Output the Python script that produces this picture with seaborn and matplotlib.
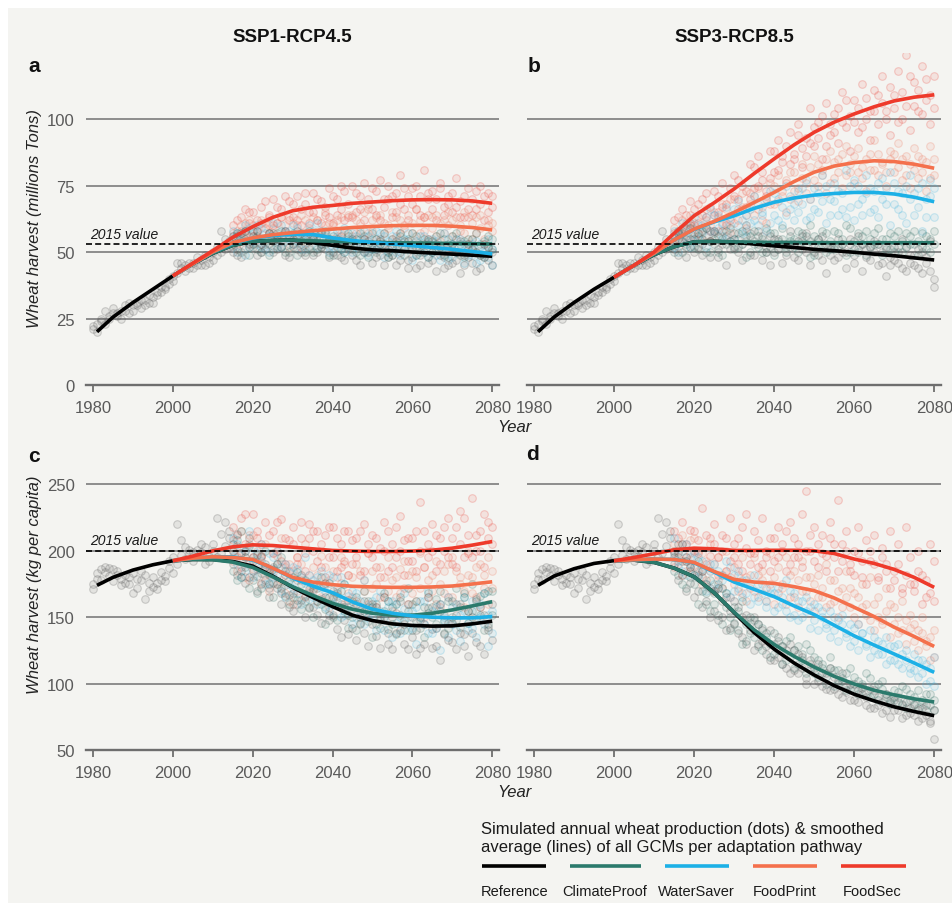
import matplotlib
matplotlib.use("Agg")
import matplotlib.pyplot as plt
import matplotlib.colors as mcolors
from matplotlib.lines import Line2D
from matplotlib.patches import Rectangle
import pandas as pd
import seaborn as sns

sns.set_theme(style="white")
plt.rcParams['font.family'] = ['Liberation Sans', 'DejaVu Sans']

# ---------------------------------------------------------------- data
PATHWAYS = ["Reference", "ClimateProof", "WaterSaver", "FoodPrint", "FoodSec"]
LINE_COLORS = ["#000000", "#2b7a6c", "#1cb0e6", "#f4704c", "#ee3a2b"]
DOT_COLORS = ["#505050", "#2d6d63", "#4cb8e2", "#f07a62", "#ec4a40"]

REF_LINE_YEARS = [1981, 1985, 1990, 1995, 2000, 2005, 2010, 2015, 2020, 2025, 2030,
                  2035, 2040, 2045, 2050, 2055, 2060, 2065, 2070, 2075, 2080]
PATH_LINE_YEARS = [2000, 2005, 2010, 2015, 2020, 2025, 2030, 2035, 2040, 2045, 2050,
                   2055, 2060, 2065, 2070, 2075, 2080]
HIST_YEARS = list(range(1980, 2015))
FUT_YEARS = list(range(2015, 2081))

# smoothed averages (lines)
a_ref_line = [20, 25.5, 31, 36, 41, 45.5, 49.5, 52.5, 54, 54.3, 54.5, 53.5, 52.5, 51.5, 50.8, 50.5, 50, 49.6, 49.2, 48.8, 48.4]
a_cp_line = [41, 45.5, 49.5, 52.5, 54, 54.3, 54.5, 54.2, 54, 53.8, 53.6, 53.5, 53.4, 53.3, 53.2, 53.1, 53]
a_ws_line = [41, 45.5, 50, 53.2, 55.2, 56.2, 56.6, 56.6, 55.3, 54.3, 53.6, 53, 52.4, 51.7, 51, 50.2, 49.3]
a_fp_line = [41, 45.5, 50, 53.5, 55.3, 56.5, 57.3, 58, 58.6, 59.2, 59.6, 59.9, 60, 60, 59.7, 59.2, 58.3]
a_fs_line = [41, 45.8, 50.5, 55.5, 59.5, 63, 65.5, 66.8, 67.5, 68.3, 68.8, 69.3, 69.6, 69.7, 69.6, 69.2, 68.3]

b_ref_line = [20, 25.5, 31, 36, 40.5, 45, 49, 52, 53.8, 54, 53.7, 53, 52.3, 51.7, 51, 50.5, 49.9, 49.2, 48.6, 47.8, 47]
b_cp_line = [40.5, 45, 49, 52, 53.8, 54, 53.8, 53.7, 53.6, 53.6, 53.5, 53.5, 53.5, 53.5, 53.5, 53.5, 53.5]
b_ws_line = [40.5, 45, 49.5, 54.5, 58.5, 61.3, 63.6, 66.4, 68.7, 70.3, 71.4, 72, 72.4, 72.4, 71.8, 70.6, 68.9]
b_fp_line = [40.5, 45, 49.5, 54.5, 58.6, 61.5, 64.9, 68.6, 72.4, 76.5, 80, 82.3, 83.6, 84.3, 84, 83, 81.5]
b_fs_line = [40.5, 45, 50, 57, 63.6, 68.5, 73.7, 79.5, 85, 90.3, 95, 98.8, 101.9, 104.6, 106.8, 108.2, 109.1]

c_ref_line = [174, 180, 185.5, 189.5, 192.5, 193.5, 193.5, 192, 188.5, 181, 172.5, 165, 158, 151.5, 147.5, 145, 143.8, 143.3, 143.5, 145, 147]
c_cp_line = [192.5, 193.5, 193.3, 191.5, 187.5, 180.5, 173, 166.5, 160.5, 156, 153, 151.5, 151.5, 153, 155.5, 158.5, 161.7]
c_ws_line = [192.5, 194.5, 195.5, 195.5, 193, 187, 179.5, 173.5, 168.5, 161.5, 156, 153, 151, 150, 149.5, 149.5, 150.5]
c_fp_line = [192.5, 194.5, 195.5, 195, 193.5, 187, 180, 176.5, 174.5, 173.3, 172.8, 172.5, 172.5, 172.8, 173.5, 175, 176.7]
c_fs_line = [192.5, 196, 200, 203, 204.5, 204, 202.8, 201.5, 200.3, 199.8, 199.5, 199.5, 199.8, 200.5, 202, 204.3, 207]

d_ref_line = [174, 181, 186.5, 190.5, 192.6, 193, 191.3, 187, 180.5, 168.5, 153.5, 138.5, 126, 115.5, 106.5, 98.5, 92, 87, 82.5, 79, 75.8]
d_cp_line = [192.6, 193, 191.3, 187, 180.5, 168.5, 153.8, 140.5, 129.5, 120.5, 112.5, 105.5, 99.7, 95, 91.5, 88.5, 86.2]
d_ws_line = [192.5, 193.3, 193.8, 193.5, 191, 184, 176.5, 171, 165.5, 158.5, 152, 144, 136, 129, 122.3, 115.5, 108.5]
d_fp_line = [192.5, 193.3, 193.8, 193.5, 191.3, 184.5, 178.5, 176.5, 175.5, 173, 170, 164.5, 157.5, 150.5, 142.5, 135.5, 128]
d_fs_line = [192.5, 195, 197.8, 200.8, 202, 201.5, 200.3, 200.3, 200.4, 200.4, 200, 198, 193.8, 190.5, 186, 180, 172.5]

# historical simulations (dots, 1980-2014)
hist_top_1 = [21, 23, 24, 28, 26, 27, 26, 28, 30, 27, 30, 31, 29, 32, 31, 33, 35, 35, 37, 38,
              41, 46, 44, 45, 44, 46, 45, 47, 45, 48, 50, 49, 58, 51, 54]
hist_top_2 = [22, 20, 25, 23, 25, 29, 27, 25, 28, 31, 28, 30, 32, 30, 34, 31, 34, 37, 36, 40,
              39, 42, 46, 43, 46, 44, 48, 45, 49, 46, 47, 52, 50, 55, 52]
hist_bot_1 = [171, 179, 186, 184, 187, 186, 182, 179, 176, 180, 168, 179, 185, 164, 176, 173, 171, 178, 181, 192,
              183, 220, 208, 203, 198, 199, 201, 205, 190, 196, 200, 225, 198, 222, 210]
hist_bot_2 = [175, 183, 178, 188, 181, 177, 185, 174, 182, 175, 183, 172, 178, 182, 170, 180, 176, 184, 177, 187,
              195, 190, 197, 194, 201, 192, 196, 199, 203, 192, 205, 195, 213, 204, 215]

# simulated annual values per pathway, two GCM runs each (2015-2080)
a_ref_dots1 = [55, 49, 57, 51, 54, 52, 58, 50, 55, 53, 57, 51, 54, 49, 56, 53, 58, 50, 55, 52, 49, 56, 53, 51, 55,
               50, 54, 48, 53, 51, 55, 47, 52, 50, 54, 46, 51, 49, 53, 48, 52, 45, 50, 54, 47, 51, 44, 49, 53, 46,
               50, 43, 52, 48, 45, 51, 47, 42, 49, 53, 46, 50, 44, 48, 52, 45]
a_ref_dots2 = [50, 56, 48, 58, 53, 56, 49, 53, 51, 57, 50, 55, 52, 58, 48, 55, 51, 57, 49, 54, 56, 50, 52, 57, 48,
               54, 49, 56, 47, 52, 49, 53, 45, 55, 50, 53, 48, 55, 45, 51, 49, 54, 47, 51, 44, 48, 52, 45, 50, 55,
               47, 53, 49, 44, 51, 46, 50, 54, 45, 48, 51, 43, 49, 53, 47, 50]
a_cp_dots1 = [53, 57, 50, 55, 52, 58, 51, 55, 53, 49, 54, 57, 52, 56, 50, 52, 56, 54, 50, 58, 55, 51, 57, 53, 49,
              56, 52, 54, 50, 57, 51, 55, 49, 56, 53, 57, 50, 54, 52, 48, 55, 51, 57, 49, 54, 52, 56, 50, 55, 48,
              54, 51, 57, 49, 53, 56, 50, 53, 48, 55, 51, 57, 49, 54, 52, 55]
a_cp_dots2 = [56, 51, 54, 58, 49, 53, 56, 50, 54, 57, 51, 55, 58, 50, 53, 57, 49, 53, 56, 51, 50, 54, 52, 58, 55,
              49, 55, 51, 53, 56, 54, 50, 57, 52, 48, 51, 55, 53, 57, 50, 49, 53, 56, 51, 55, 57, 49, 53, 51, 54,
              50, 56, 52, 55, 48, 53, 57, 49, 54, 51, 55, 50, 53, 48, 56, 51]
a_ws_dots1 = [58, 50, 55, 60, 52, 57, 53, 59, 51, 56, 61, 54, 52, 58, 55, 53, 59, 56, 51, 60, 55, 52, 58, 54, 50,
              57, 53, 51, 59, 55, 50, 56, 53, 58, 49, 55, 51, 57, 48, 54, 52, 58, 49, 55, 51, 47, 54, 56, 50, 53,
              55, 49, 52, 57, 47, 53, 50, 55, 46, 52, 49, 54, 47, 51, 55, 45]
a_ws_dots2 = [52, 57, 54, 49, 59, 54, 60, 52, 57, 50, 56, 52, 60, 54, 58, 60, 54, 51, 57, 55, 58, 61, 53, 56, 52,
              52, 58, 55, 50, 54, 57, 52, 55, 50, 56, 51, 58, 53, 56, 50, 56, 50, 54, 52, 57, 53, 49, 51, 56, 48,
              50, 54, 47, 52, 55, 48, 55, 51, 53, 49, 53, 46, 52, 50, 48, 51]
a_fp_dots1 = [57, 51, 60, 54, 62, 53, 58, 62, 55, 60, 59, 54, 63, 57, 52, 61, 56, 64, 53, 59, 55, 62, 58, 65, 54,
              60, 56, 63, 58, 53, 64, 57, 61, 55, 66, 58, 63, 54, 61, 59, 65, 56, 62, 59, 54, 61, 66, 57, 63, 55,
              59, 64, 54, 62, 60, 56, 63, 58, 65, 53, 61, 57, 64, 55, 60, 58]
a_fp_dots2 = [52, 58, 55, 61, 56, 60, 55, 53, 61, 57, 54, 61, 56, 60, 63, 55, 60, 52, 62, 57, 63, 57, 53, 60, 61,
              55, 62, 57, 54, 64, 56, 62, 58, 65, 57, 62, 55, 64, 57, 60, 55, 63, 57, 60, 64, 57, 54, 62, 58, 64,
              63, 56, 61, 57, 65, 62, 55, 60, 57, 63, 55, 63, 59, 53, 62, 61]
a_fs_dots1 = [60, 53, 63, 57, 65, 56, 62, 67, 59, 64, 70, 61, 66, 58, 69, 63, 71, 60, 68, 65, 72, 62, 69, 64, 74,
              61, 70, 66, 73, 63, 75, 65, 71, 62, 68, 74, 64, 77, 67, 70, 63, 72, 79, 66, 71, 68, 75, 64, 81, 70,
              73, 62, 76, 67, 71, 65, 78, 69, 63, 74, 70, 66, 75, 62, 72, 67]
a_fs_dots2 = [56, 62, 58, 66, 61, 65, 58, 61, 69, 63, 60, 67, 63, 71, 62, 68, 62, 66, 72, 61, 65, 70, 61, 67, 63,
              71, 64, 75, 62, 68, 63, 72, 66, 76, 70, 66, 73, 62, 70, 75, 71, 65, 68, 74, 62, 74, 66, 71, 63, 72,
              66, 70, 74, 64, 68, 72, 67, 63, 71, 66, 64, 73, 68, 71, 65, 71]

b_ref_dots1 = [56, 49, 58, 52, 55, 50, 57, 53, 59, 48, 55, 51, 58, 45, 54, 57, 50, 53, 60, 49, 54, 58, 47, 52, 56,
               50, 55, 46, 53, 58, 48, 54, 51, 57, 45, 53, 49, 56, 42, 52, 47, 55, 50, 44, 53, 49, 56, 43, 51, 47,
               54, 45, 50, 41, 48, 52, 46, 55, 43, 49, 45, 51, 42, 48, 54, 40]
b_ref_dots2 = [51, 57, 54, 48, 60, 55, 52, 49, 56, 54, 58, 48, 53, 56, 51, 52, 55, 47, 54, 57, 49, 53, 56, 50, 45,
               55, 51, 53, 49, 52, 53, 47, 56, 50, 54, 50, 55, 47, 53, 49, 52, 48, 53, 50, 55, 46, 51, 53, 48, 52,
               50, 53, 46, 52, 45, 47, 50, 44, 52, 46, 49, 44, 50, 46, 43, 37]
b_cp_dots1 = [54, 58, 50, 56, 52, 57, 51, 55, 59, 50, 53, 56, 49, 58, 54, 51, 57, 53, 48, 56, 58, 52, 55, 50, 57,
              49, 54, 59, 52, 56, 55, 50, 57, 53, 48, 56, 52, 58, 50, 54, 51, 57, 53, 49, 59, 54, 50, 56, 58, 52,
              57, 53, 49, 55, 51, 50, 58, 54, 52, 56, 53, 49, 57, 51, 55, 58]
b_cp_dots2 = [50, 55, 57, 53, 59, 52, 56, 58, 50, 54, 57, 50, 55, 53, 59, 55, 52, 58, 56, 50, 53, 56, 50, 59, 52,
              57, 51, 55, 50, 54, 52, 58, 54, 56, 60, 49, 55, 53, 57, 51, 58, 52, 55, 60, 50, 51, 57, 53, 49, 55,
              53, 59, 55, 51, 57, 56, 52, 50, 57, 53, 58, 54, 52, 56, 50, 53]
b_ws_dots1 = [58, 50, 61, 55, 52, 63, 55, 60, 52, 66, 58, 64, 56, 67, 60, 55, 69, 62, 58, 66, 71, 60, 65, 58, 73,
              64, 70, 60, 75, 66, 62, 73, 68, 77, 63, 74, 65, 79, 61, 70, 76, 64, 72, 81, 67, 62, 75, 70, 79, 65,
              73, 63, 78, 68, 60, 76, 66, 72, 61, 79, 64, 74, 58, 70, 77, 63]
b_ws_dots2 = [52, 57, 54, 60, 57, 54, 60, 57, 63, 58, 64, 59, 61, 55, 63, 66, 60, 57, 64, 61, 62, 68, 64, 70, 61,
              72, 62, 67, 64, 71, 68, 65, 74, 62, 70, 66, 72, 69, 75, 64, 69, 73, 66, 63, 75, 77, 68, 64, 72, 74,
              66, 76, 70, 74, 80, 68, 73, 64, 75, 70, 72, 67, 76, 63, 71, 74]
b_fp_dots1 = [59, 52, 62, 55, 64, 56, 63, 59, 66, 54, 65, 58, 68, 61, 57, 70, 62, 67, 59, 72, 64, 74, 67, 61, 76,
              68, 79, 71, 65, 80, 73, 69, 83, 76, 70, 86, 75, 81, 72, 88, 78, 85, 74, 90, 80, 76, 89, 82, 73, 87,
              92, 79, 84, 75, 88, 80, 91, 77, 86, 74, 89, 78, 85, 73, 90, 79]
b_fp_dots2 = [53, 58, 56, 61, 59, 61, 57, 55, 62, 60, 58, 63, 60, 66, 70, 61, 66, 72, 64, 68, 71, 66, 62, 70, 68,
              75, 69, 73, 77, 70, 80, 74, 78, 72, 82, 77, 83, 79, 85, 76, 84, 80, 87, 79, 83, 86, 80, 78, 85, 81,
              81, 87, 83, 80, 85, 87, 82, 85, 79, 83, 81, 86, 80, 84, 78, 85]
b_fs_dots1 = [62, 55, 66, 59, 69, 60, 68, 64, 72, 58, 73, 65, 76, 68, 62, 79, 70, 75, 67, 83, 74, 86, 77, 71, 88,
              80, 92, 84, 76, 95, 87, 98, 82, 93, 104, 90, 99, 85, 106, 94, 102, 91, 110, 97, 88, 107, 95, 113, 100, 92,
              111, 98, 116, 103, 94, 109, 118, 100, 124, 96, 114, 103, 120, 107, 98, 116]
b_fs_dots2 = [57, 63, 59, 64, 61, 66, 61, 70, 63, 67, 64, 71, 67, 60, 74, 71, 77, 66, 73, 70, 82, 75, 80, 73, 78,
              88, 81, 86, 90, 83, 85, 94, 89, 86, 91, 97, 93, 101, 90, 98, 95, 104, 99, 107, 101, 99, 104, 97, 108, 103,
              103, 109, 106, 100, 112, 104, 99, 110, 105, 116, 105, 111, 102, 115, 109, 104]

c_ref_dots1 = [205, 182, 198, 176, 210, 185, 170, 196, 178, 165, 188, 172, 160, 182, 167, 155, 178, 163, 150, 171,
               158, 175, 146, 165, 152, 170, 141, 160, 148, 137, 156, 133, 150, 162, 128, 145, 158, 127, 150, 138,
               126, 153, 140, 130, 160, 135, 122, 148, 130, 157, 127, 142, 118, 152, 133, 146, 126, 160, 137, 121,
               150, 131, 158, 122, 143, 160]
c_ref_dots2 = [190, 213, 185, 200, 180, 195, 181, 175, 190, 172, 176, 190, 168, 174, 158, 168, 160, 182, 166, 157,
               171, 152, 164, 176, 148, 152, 166, 135, 158, 163, 142, 160, 145, 138, 155, 160, 136, 148, 165, 130,
               150, 138, 162, 145, 126, 150, 140, 127, 145, 165, 141, 128, 160, 137, 146, 131, 152, 138, 128, 155,
               138, 164, 128, 152, 140, 133]
c_cp_dots1 = [200, 178, 215, 188, 172, 192, 168, 183, 200, 175, 165, 190, 172, 185, 160, 180, 163, 156, 178, 168,
              150, 172, 160, 145, 176, 165, 148, 170, 155, 142, 162, 140, 158, 170, 147, 135, 160, 150, 168, 141,
              158, 137, 165, 148, 172, 140, 162, 150, 135, 168, 158, 145, 170, 138, 162, 150, 172, 143, 165, 155,
              175, 148, 166, 140, 170, 152]
c_cp_dots2 = [185, 208, 180, 195, 204, 178, 197, 172, 188, 182, 186, 175, 195, 166, 178, 165, 184, 175, 162, 158,
              174, 162, 180, 156, 165, 150, 168, 158, 175, 152, 150, 165, 146, 155, 162, 158, 145, 142, 155, 162,
              145, 160, 152, 140, 155, 160, 147, 142, 158, 153, 150, 164, 155, 147, 142, 162, 148, 158, 168, 146,
              155, 162, 152, 168, 145, 170]
c_ws_dots1 = [210, 190, 202, 185, 215, 180, 198, 205, 188, 176, 195, 182, 170, 190, 175, 188, 168, 180, 195, 164,
              178, 160, 185, 170, 155, 180, 162, 150, 175, 158, 145, 168, 155, 178, 150, 162, 140, 170, 148, 158,
              135, 160, 150, 168, 140, 155, 130, 162, 145, 170, 138, 158, 125, 150, 165, 145, 160, 132, 155, 140,
              162, 135, 150, 168, 128, 155]
c_ws_dots2 = [196, 205, 180, 200, 192, 202, 186, 192, 175, 198, 180, 200, 188, 165, 184, 172, 186, 160, 176, 182,
              165, 180, 172, 158, 182, 160, 172, 180, 152, 166, 170, 150, 162, 145, 158, 150, 165, 155, 140, 162,
              162, 146, 138, 156, 150, 142, 158, 150, 162, 138, 155, 142, 160, 148, 135, 158, 140, 152, 165, 146,
              142, 155, 160, 145, 152, 138]
c_fp_dots1 = [208, 185, 215, 195, 178, 212, 190, 176, 205, 183, 198, 175, 210, 168, 190, 160, 195, 178, 205, 170,
              188, 162, 196, 175, 158, 185, 170, 195, 160, 182, 165, 190, 155, 178, 198, 172, 158, 188, 165, 195,
              155, 180, 168, 192, 160, 185, 162, 198, 150, 178, 170, 192, 158, 185, 165, 195, 160, 180, 170, 200,
              168, 188, 158, 182, 195, 172]
c_fp_dots2 = [192, 204, 198, 180, 212, 186, 200, 195, 182, 170, 184, 196, 178, 188, 162, 185, 170, 190, 165, 182,
              170, 182, 165, 188, 178, 164, 180, 176, 190, 168, 180, 162, 185, 170, 160, 185, 175, 165, 180, 170,
              178, 165, 186, 172, 182, 168, 180, 172, 188, 165, 182, 160, 175, 168, 190, 165, 185, 175, 158, 182,
              180, 165, 190, 172, 160, 185]
c_fs_dots1 = [218, 195, 225, 205, 190, 228, 210, 196, 222, 185, 215, 200, 224, 190, 208, 218, 195, 210, 185, 220,
              200, 215, 188, 212, 195, 218, 185, 205, 192, 215, 190, 210, 182, 220, 198, 212, 188, 202, 222, 185,
              205, 195, 226, 182, 210, 192, 215, 237, 188, 205, 220, 185, 210, 200, 225, 190, 218, 230, 195, 212,
              240, 200, 215, 188, 222, 205]
c_fs_dots2 = [200, 212, 188, 228, 205, 195, 215, 205, 188, 212, 198, 222, 192, 210, 185, 205, 190, 222, 198, 210,
              215, 192, 205, 180, 218, 195, 210, 188, 215, 182, 208, 195, 215, 185, 205, 195, 210, 180, 200, 215,
              188, 218, 200, 208, 192, 210, 185, 200, 215, 195, 200, 212, 190, 218, 195, 210, 188, 205, 225, 198,
              195, 212, 200, 228, 210, 218]

d_ref_dots1 = [200, 178, 192, 170, 185, 165, 182, 158, 175, 150, 170, 148, 162, 140, 155, 162, 138, 150, 130, 146,
               125, 145, 132, 122, 140, 118, 135, 128, 112, 130, 125, 108, 120, 104, 118, 100, 115, 108, 96, 112,
               105, 92, 108, 98, 88, 100, 86, 97, 90, 82, 95, 84, 78, 92, 86, 80, 90, 74, 86, 78,
               85, 72, 82, 76, 70, 80]
d_ref_dots2 = [190, 205, 182, 195, 176, 188, 170, 180, 162, 172, 155, 172, 150, 165, 142, 145, 158, 135, 152, 140,
               150, 130, 140, 128, 118, 130, 120, 115, 125, 108, 110, 122, 112, 100, 115, 112, 102, 98, 108, 95,
               96, 102, 90, 94, 100, 88, 95, 92, 84, 96, 82, 90, 86, 80, 75, 88, 80, 84, 76, 82,
               76, 80, 74, 84, 72, 58]
d_cp_dots1 = [195, 182, 205, 172, 188, 175, 160, 185, 168, 155, 160, 175, 145, 168, 150, 158, 140, 162, 132, 150,
              148, 128, 142, 135, 120, 138, 125, 115, 132, 120, 112, 128, 118, 108, 125, 120, 105, 115, 100, 112,
              98, 110, 104, 95, 112, 105, 92, 100, 108, 90, 98, 88, 102, 92, 85, 95, 86, 98, 82, 92,
              84, 95, 88, 80, 92, 88]
d_cp_dots2 = [185, 198, 175, 192, 180, 182, 192, 170, 160, 178, 168, 152, 172, 158, 140, 146, 155, 130, 145, 138,
              135, 145, 125, 138, 130, 122, 132, 128, 118, 135, 125, 115, 122, 130, 110, 108, 118, 112, 105, 120,
              110, 100, 102, 108, 96, 95, 102, 98, 93, 104, 92, 100, 96, 90, 88, 90, 94, 85, 96, 88,
              90, 82, 86, 92, 84, 80]
d_ws_dots1 = [210, 188, 200, 182, 195, 198, 180, 192, 175, 185, 190, 172, 182, 168, 188, 170, 185, 165, 178, 160,
              182, 162, 175, 158, 168, 155, 172, 160, 178, 150, 168, 148, 162, 155, 142, 160, 140, 155, 145, 135,
              150, 132, 145, 138, 128, 142, 125, 138, 130, 120, 135, 122, 130, 115, 128, 118, 130, 112, 125, 108,
              122, 105, 118, 100, 112, 120]
d_ws_dots2 = [198, 192, 185, 205, 190, 182, 195, 186, 170, 190, 175, 185, 178, 192, 165, 182, 172, 178, 168, 175,
              165, 175, 168, 162, 172, 168, 158, 165, 155, 170, 152, 162, 150, 165, 158, 148, 158, 150, 142, 155,
              140, 148, 152, 135, 145, 132, 145, 138, 128, 140, 125, 132, 122, 135, 118, 128, 115, 122, 118, 112,
              110, 118, 108, 115, 102, 98]
d_fp_dots1 = [205, 190, 212, 185, 198, 210, 185, 198, 178, 205, 170, 195, 182, 200, 165, 188, 170, 195, 162, 182,
              195, 165, 185, 172, 198, 160, 188, 175, 195, 165, 185, 158, 192, 170, 180, 155, 182, 165, 190, 160,
              178, 150, 172, 185, 158, 168, 145, 175, 152, 180, 140, 165, 148, 172, 135, 158, 138, 162, 130, 152,
              145, 125, 150, 132, 118, 140]
d_fp_dots2 = [188, 200, 182, 195, 208, 195, 200, 175, 192, 185, 190, 178, 172, 185, 180, 175, 182, 168, 180, 172,
              170, 182, 178, 162, 175, 180, 168, 172, 160, 182, 165, 178, 170, 180, 162, 175, 165, 172, 158, 178,
              162, 170, 158, 165, 172, 150, 165, 158, 160, 148, 160, 150, 145, 155, 160, 145, 150, 140, 148, 142,
              132, 140, 138, 128, 135, 120]
d_fs_dots1 = [215, 195, 222, 205, 188, 215, 198, 232, 190, 210, 220, 195, 212, 185, 225, 205, 190, 218, 228, 198,
              215, 188, 225, 200, 210, 192, 218, 205, 185, 222, 210, 195, 228, 245, 200, 218, 188, 212, 196, 222,
              205, 238, 192, 215, 185, 200, 218, 180, 208, 192, 212, 178, 202, 190, 215, 185, 205, 172, 218, 195,
              175, 200, 182, 165, 205, 192]
d_fs_dots2 = [198, 210, 205, 192, 216, 200, 208, 185, 212, 196, 205, 182, 200, 210, 192, 195, 210, 185, 202, 190,
              198, 208, 190, 195, 185, 210, 195, 200, 215, 190, 195, 205, 188, 200, 212, 192, 205, 198, 185, 210,
              195, 185, 205, 200, 190, 182, 198, 192, 175, 200, 190, 180, 195, 185, 172, 178, 190, 168, 182, 175,
              170, 185, 160, 178, 168, 162]

PANELS = {
    "a": dict(lines=[a_ref_line, a_cp_line, a_ws_line, a_fp_line, a_fs_line],
              dots=[(a_ref_dots1, a_ref_dots2), (a_cp_dots1, a_cp_dots2), (a_ws_dots1, a_ws_dots2),
                    (a_fp_dots1, a_fp_dots2), (a_fs_dots1, a_fs_dots2)],
              hist=(hist_top_1, hist_top_2)),
    "b": dict(lines=[b_ref_line, b_cp_line, b_ws_line, b_fp_line, b_fs_line],
              dots=[(b_ref_dots1, b_ref_dots2), (b_cp_dots1, b_cp_dots2), (b_ws_dots1, b_ws_dots2),
                    (b_fp_dots1, b_fp_dots2), (b_fs_dots1, b_fs_dots2)],
              hist=(hist_top_1, hist_top_2)),
    "c": dict(lines=[c_ref_line, c_cp_line, c_ws_line, c_fp_line, c_fs_line],
              dots=[(c_ref_dots1, c_ref_dots2), (c_cp_dots1, c_cp_dots2), (c_ws_dots1, c_ws_dots2),
                    (c_fp_dots1, c_fp_dots2), (c_fs_dots1, c_fs_dots2)],
              hist=(hist_bot_1, hist_bot_2)),
    "d": dict(lines=[d_ref_line, d_cp_line, d_ws_line, d_fp_line, d_fs_line],
              dots=[(d_ref_dots1, d_ref_dots2), (d_cp_dots1, d_cp_dots2), (d_ws_dots1, d_ws_dots2),
                    (d_fp_dots1, d_fp_dots2), (d_fs_dots1, d_fs_dots2)],
              hist=(hist_bot_1, hist_bot_2)),
}

TOP_TICKS = [0, 25, 50, 75, 100]
BOT_TICKS = [50, 100, 150, 200, 250]
X_TICKS = [1980, 2000, 2020, 2040, 2060, 2080]
VALUE_2015_TOP = 53
VALUE_2015_BOT = 200

# ---------------------------------------------------------------- figure
W, H = 952, 904
BG = "#f4f4f1"
fig = plt.figure(figsize=(W / 100, H / 100), dpi=100)
fig.patch.set_facecolor("white")
fig.add_artist(Rectangle((8 / W, 0), 1 - 8 / W, 1 - 9 / H, transform=fig.transFigure,
                         facecolor=BG, edgecolor="none", zorder=-10))


def px_axes(left, top, right, bottom):
    return fig.add_axes([left / W, 1 - bottom / H, (right - left) / W, (bottom - top) / H])


axes = {
    "a": px_axes(86, 53.5, 499, 386),
    "b": px_axes(527, 53.5, 941, 386),
    "c": px_axes(86, 478.8, 499, 751),
    "d": px_axes(527, 478.8, 941, 751),
}

GRID_C = "#858585"
AXIS_C = "#6e6e6e"
TICK_C = "#5a5a5a"


def style_dots(ax, color, fa, ea):
    coll = ax.collections[-1]
    r, g, b_ = mcolors.to_rgb(color)
    coll.set_facecolor((r, g, b_, fa))
    coll.set_edgecolor((r, g, b_, ea))


for key, ax in axes.items():
    p = PANELS[key]
    top = key in ("a", "b")
    ax.set_facecolor("none")
    # dots
    for y in p["hist"]:
        sns.scatterplot(x=HIST_YEARS, y=y, ax=ax, s=30, linewidth=0.8, legend=False, zorder=2)
        style_dots(ax, DOT_COLORS[0], 0.10, 0.24)
    for i in [4, 3, 2, 1, 0]:
        for y in p["dots"][i]:
            sns.scatterplot(x=FUT_YEARS, y=y, ax=ax, s=30, linewidth=0.8, legend=False, zorder=2)
            fa, ea = (0.10, 0.24) if i in (0, 1) else (0.10, 0.26)
            style_dots(ax, DOT_COLORS[i], fa, ea)
    # smoothed lines
    for i, name in enumerate(PATHWAYS):
        xs = REF_LINE_YEARS if i == 0 else PATH_LINE_YEARS
        sns.lineplot(x=xs, y=p["lines"][i], ax=ax, color=LINE_COLORS[i], lw=2.6,
                     zorder=4 + i * 0.1, legend=False)
    for ln in ax.lines:
        ln.set_solid_capstyle("butt")
    # 2015 reference value
    v15 = VALUE_2015_TOP if top else VALUE_2015_BOT
    ax.axhline(v15, color="black", lw=1.2, ls=(0, (3.6, 1.9)), zorder=6)
    ax.text(1979.3, v15 + (1.3 if top else 2.6), "2015 value", fontsize=10, style="italic",
            color="#1a1a1a", va="bottom", ha="left", zorder=7)

    ax.set_xlim(1978.25, 2081.7)
    if top:
        ax.set_ylim(0, 125)
        ax.set_yticks(TOP_TICKS)
    else:
        ax.set_ylim(50, 255)
        ax.set_yticks(BOT_TICKS)
    ax.set_xticks(X_TICKS)
    ax.set_xlabel("")
    ax.set_ylabel("")
    ax.set_axisbelow(True)
    ax.yaxis.grid(True, color=GRID_C, lw=1.3)
    ax.xaxis.grid(False)
    for s in ("top", "right", "left"):
        ax.spines[s].set_visible(False)
    ax.spines["bottom"].set_color(AXIS_C)
    ax.spines["bottom"].set_linewidth(1.7)
    ax.spines["bottom"].set_zorder(1)
    ax.tick_params(axis="x", direction="out", length=5, width=1.3, color=AXIS_C,
                   labelsize=12, labelcolor=TICK_C, pad=5.5, bottom=True)
    ax.tick_params(axis="y", length=0, labelsize=12, labelcolor=TICK_C, pad=8)
    if key in ("b", "d"):
        ax.tick_params(axis="y", labelleft=False)

# titles and panel letters
fig.text(292.5 / W, 1 - 38 / H, "SSP1-RCP4.5", ha="center", va="center", fontsize=13.5,
         fontweight="bold", color="#111111")
fig.text(734 / W, 1 - 38 / H, "SSP3-RCP8.5", ha="center", va="center", fontsize=13.5,
         fontweight="bold", color="#111111")
for letter, (lx, ly) in {"a": (28, 67), "b": (528, 67), "c": (28, 457), "d": (526, 455)}.items():
    fig.text(lx / W, 1 - ly / H, letter, ha="left", va="center", fontsize=15,
             fontweight="bold", color="#111111")

fig.text(35 / W, 1 - 219 / H, "Wheat harvest (millions Tons)", rotation=90, ha="center",
         va="center", fontsize=12, style="italic", color="#222222")
fig.text(35 / W, 1 - 585 / H, "Wheat harvest (kg per capita)", rotation=90, ha="center",
         va="center", fontsize=12, style="italic", color="#222222")
fig.text(514 / W, 1 - 428 / H, "Year", ha="center", va="center", fontsize=12,
         style="italic", color="#222222")
fig.text(514 / W, 1 - 793 / H, "Year", ha="center", va="center", fontsize=12,
         style="italic", color="#222222")

# legend
fig.text(481 / W, 1 - 830 / H, "Simulated annual wheat production (dots) & smoothed",
         ha="left", va="center", fontsize=12, color="#1a1a1a")
fig.text(481 / W, 1 - 848 / H, "average (lines) of all GCMs per adaptation pathway",
         ha="left", va="center", fontsize=12, color="#1a1a1a")
seg_x = [(482, 546), (570, 641), (665, 729), (753, 817), (841, 906)]
lab_x = [481, 562, 658, 753, 843]
for i, name in enumerate(PATHWAYS):
    x0, x1 = seg_x[i]
    fig.add_artist(Line2D([x0 / W, x1 / W], [1 - 867 / H, 1 - 867 / H], transform=fig.transFigure,
                          color=LINE_COLORS[i], lw=2.6, solid_capstyle="butt"))
    fig.text(lab_x[i] / W, 1 - 892 / H, name, ha="left", va="center", fontsize=10.5,
             color="#1a1a1a")

fig.savefig("out.png", dpi=100, facecolor=fig.get_facecolor())
